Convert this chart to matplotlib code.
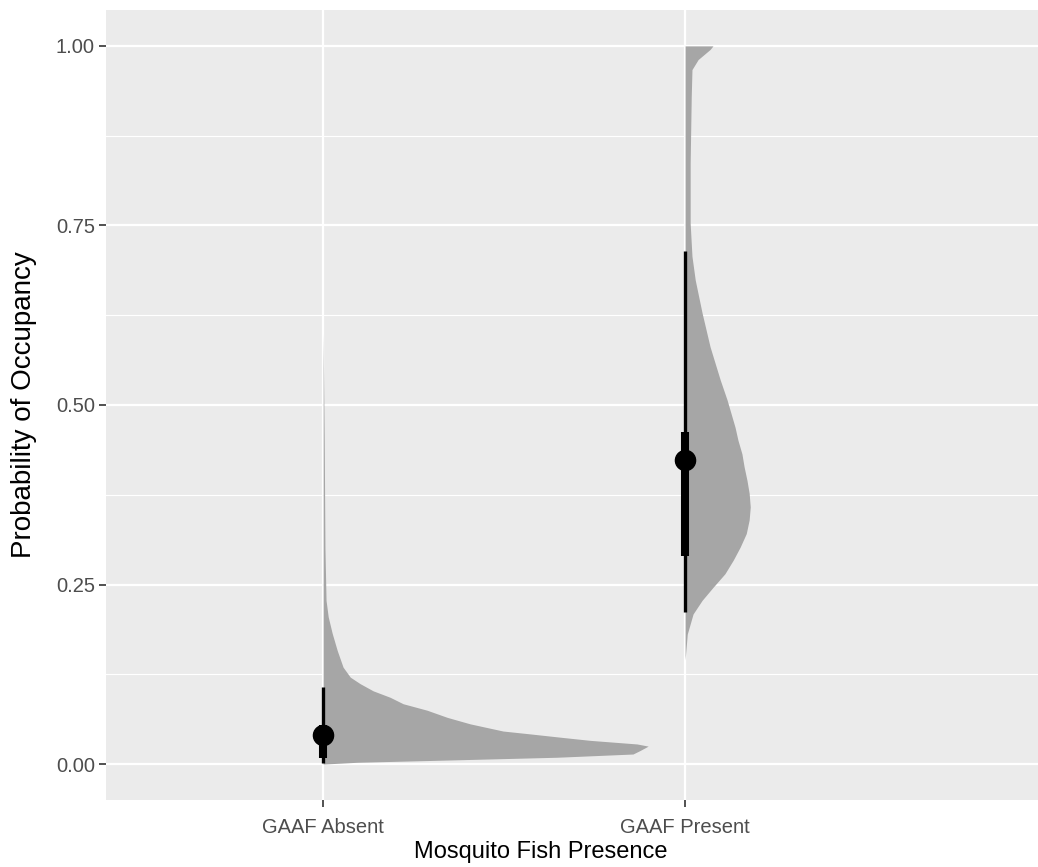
import numpy as np
import matplotlib
matplotlib.use('Agg')
import matplotlib.pyplot as plt

plt.rcParams['font.family'] = ['Liberation Sans', 'DejaVu Sans']

categories = ['GAAF Absent', 'GAAF Present']

# half-eye slab outlines: probability value and slab width (in category units)
absent_y = [0.0, 0.0025, 0.005, 0.0095, 0.014, 0.019, 0.025, 0.028, 0.033, 0.037,
            0.042, 0.046, 0.056, 0.065, 0.075, 0.084, 0.093, 0.102, 0.112, 0.121,
            0.135, 0.158, 0.182, 0.205, 0.228, 0.30, 0.45, 0.60]
absent_w = [0.0, 0.094, 0.296, 0.646, 0.856, 0.876, 0.898, 0.867, 0.738, 0.663,
            0.572, 0.497, 0.406, 0.343, 0.287, 0.221, 0.185, 0.138, 0.102, 0.075,
            0.055, 0.039, 0.025, 0.014, 0.008, 0.005, 0.003, 0.0]

present_y = [0.145, 0.181, 0.209, 0.228, 0.246, 0.265, 0.284, 0.302, 0.321, 0.340,
             0.358, 0.377, 0.395, 0.414, 0.432, 0.451, 0.469, 0.488, 0.507, 0.535,
             0.581, 0.628, 0.674, 0.707, 0.753, 0.837, 0.930, 0.967, 0.981, 0.995, 1.0]
present_w = [0.0, 0.006, 0.022, 0.047, 0.077, 0.110, 0.133, 0.152, 0.169, 0.177,
             0.180, 0.177, 0.171, 0.163, 0.157, 0.146, 0.138, 0.127, 0.116, 0.097,
             0.069, 0.047, 0.028, 0.019, 0.014, 0.014, 0.017, 0.019, 0.036, 0.069, 0.077]

# point + intervals (median, 66% and 95%)
medians = [0.040, 0.424]
thick_lo = [0.009, 0.290]
thick_hi = [0.055, 0.463]
thin_lo = [0.001, 0.212]
thin_hi = [0.107, 0.714]

slabs = [(absent_y, absent_w), (present_y, present_w)]

fig = plt.figure(figsize=(10.38, 8.67), dpi=100)
ax = fig.add_axes([0.1021, 0.0773, 0.8979, 0.9112])
ax.set_facecolor('#EBEBEB')

for i, (ys, ws) in enumerate(slabs):
    xpos = i + 1
    ys = np.array(ys)
    ws = np.array(ws)
    ax.fill_betweenx(ys, xpos, xpos + ws, color='#A6A6A6', linewidth=0, zorder=3)

for i in range(len(categories)):
    xpos = i + 1
    ax.plot([xpos, xpos], [thin_lo[i], thin_hi[i]], color='black', lw=2.4,
            solid_capstyle='butt', zorder=4)
    ax.plot([xpos, xpos], [thick_lo[i], thick_hi[i]], color='black', lw=5.8,
            solid_capstyle='butt', zorder=4)
    ax.plot(xpos, medians[i], 'o', color='black', ms=14.5, zorder=5)

ax.set_xlim(0.40, 2.975)
ax.set_ylim(-0.05, 1.05)
ax.set_xticks([1, 2])
ax.set_xticklabels(categories)
ax.set_yticks([0, 0.25, 0.5, 0.75, 1.0])
ax.set_yticklabels(['0.00', '0.25', '0.50', '0.75', '1.00'])
ax.set_yticks([0.125, 0.375, 0.625, 0.875], minor=True)

ax.grid(True, which='major', color='white', lw=1.6, zorder=0)
ax.grid(True, which='minor', axis='y', color='white', lw=0.8, zorder=0)
ax.set_axisbelow(True)
for s in ax.spines.values():
    s.set_visible(False)

ax.tick_params(axis='both', which='major', length=5, width=1.2, color='#333333',
               labelcolor='#4D4D4D', labelsize=14.5, pad=3)
ax.tick_params(axis='x', which='major', pad=8)
ax.tick_params(axis='both', which='minor', length=0)

ax.set_xlabel('Mosquito Fish Presence', fontsize=17, color='black')
ax.set_ylabel('Probability of Occupancy', fontsize=20, color='black')
ax.xaxis.set_label_coords(0.467, -0.052)
ax.yaxis.set_label_coords(-0.074, 0.5)

fig.savefig('out.png', dpi=100)
